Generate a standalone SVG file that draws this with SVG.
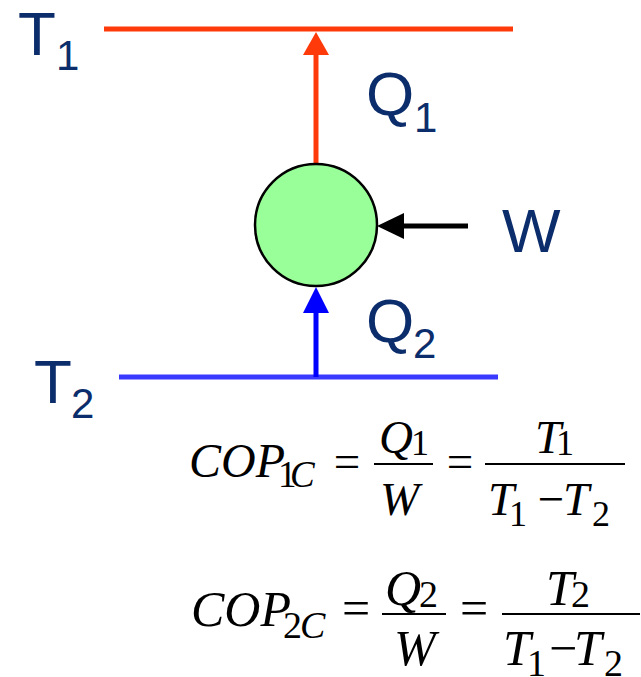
<svg xmlns="http://www.w3.org/2000/svg" width="641" height="677" viewBox="0 0 641 677">
<style>
.lbl{font-family:"Liberation Sans",Arial,sans-serif;fill:#0c2d6b}
.big{font-size:62px}
.sub{font-size:42px}
.m{font-family:"Liberation Serif","Times New Roman",serif;fill:#000}
.i{font-style:italic}
.bar{stroke:#000;stroke-width:2}
</style>
<defs>
<marker id="hr" markerUnits="userSpaceOnUse" markerWidth="24" markerHeight="26" refX="0" refY="13" orient="auto"><path d="M0,0 L23,13 L0,26 z" fill="#ff3a0a"/></marker>
<marker id="hb" markerUnits="userSpaceOnUse" markerWidth="27" markerHeight="26" refX="0" refY="13" orient="auto"><path d="M0,0 L26,13 L0,26 z" fill="#0000ff"/></marker>
<marker id="hk" markerUnits="userSpaceOnUse" markerWidth="28" markerHeight="26" refX="0" refY="13" orient="auto"><path d="M0,0 L27,13 L0,26 z" fill="#000"/></marker>
</defs>
<g id="hot-reservoir">
<line x1="104" y1="29" x2="513" y2="29" stroke="#ff3a0a" stroke-width="5"/>
<text class="lbl big" x="18" y="55">T</text><text class="lbl sub" x="56" y="70">1</text>
</g>
<g id="cold-reservoir">
<line x1="119" y1="377" x2="498" y2="377" stroke="#3a3aff" stroke-width="5"/>
<text class="lbl big" x="34" y="403">T</text><text class="lbl sub" x="71" y="418">2</text>
</g>
<g id="connectors">
<line x1="316" y1="165" x2="316" y2="55" stroke="#ff3a0a" stroke-width="5" marker-end="url(#hr)"/>
<line x1="316" y1="377" x2="316" y2="313" stroke="#0000ff" stroke-width="5" marker-end="url(#hb)"/>
<line x1="468" y1="226" x2="404" y2="226" stroke="#000" stroke-width="5" marker-end="url(#hk)"/>
</g>
<g id="engine">
<circle cx="316" cy="225" r="61" fill="#99ff99" stroke="#000" stroke-width="2.5"/>
</g>
<g id="label-q1"><text class="lbl big" x="366" y="115">Q</text><text class="lbl sub" x="414" y="132">1</text></g>
<g id="label-w"><text class="lbl big" x="502" y="252">W</text></g>
<g id="label-q2"><text class="lbl big" x="366" y="342">Q</text><text class="lbl sub" x="413" y="358">2</text></g>
<g id="equation-1">
<text class="m i" font-size="48" x="189" y="477">COP</text>
<text class="m" font-size="37" x="278" y="487">1</text><text class="m i" font-size="37" x="290" y="487">C</text>
<text class="m" font-size="47" x="347" y="477" text-anchor="middle">=</text>
<text class="m i" font-size="47" x="379" y="453">Q</text><text class="m" font-size="36" x="411" y="455">1</text>
<line class="bar" x1="374" y1="464" x2="433" y2="464"/>
<text class="m i" font-size="47" x="380" y="515">W</text>
<text class="m" font-size="47" x="460" y="477" text-anchor="middle">=</text>
<text class="m i" font-size="47" x="535" y="453">T</text><text class="m" font-size="36" x="556" y="455">1</text>
<line class="bar" x1="485" y1="464" x2="625" y2="464"/>
<text class="m i" font-size="47" x="488" y="515">T</text><text class="m" font-size="36" x="509" y="526">1</text>
<text class="m" font-size="47" x="551" y="515" text-anchor="middle">−</text>
<text class="m i" font-size="47" x="563" y="515">T</text><text class="m" font-size="36" x="592" y="526">2</text>
</g>
<g id="equation-2">
<text class="m i" font-size="50" x="191" y="626">COP</text>
<text class="m" font-size="38" x="283" y="638">2</text><text class="m i" font-size="38" x="300" y="638">C</text>
<text class="m" font-size="50" x="356" y="625" text-anchor="middle">=</text>
<text class="m i" font-size="50" x="385" y="605">Q</text><text class="m" font-size="38" x="419" y="607">2</text>
<line class="bar" x1="382" y1="614" x2="446" y2="614"/>
<text class="m i" font-size="50" x="394" y="665">W</text>
<text class="m" font-size="50" x="474" y="625" text-anchor="middle">=</text>
<text class="m i" font-size="50" x="546" y="605">T</text><text class="m" font-size="38" x="571" y="607">2</text>
<line class="bar" x1="502" y1="614" x2="640" y2="614"/>
<text class="m i" font-size="50" x="503" y="665">T</text><text class="m" font-size="38" x="527" y="676">1</text>
<text class="m" font-size="50" x="563" y="665" text-anchor="middle">−</text>
<text class="m i" font-size="50" x="574" y="665">T</text><text class="m" font-size="38" x="604" y="676">2</text>
</g>
</svg>
